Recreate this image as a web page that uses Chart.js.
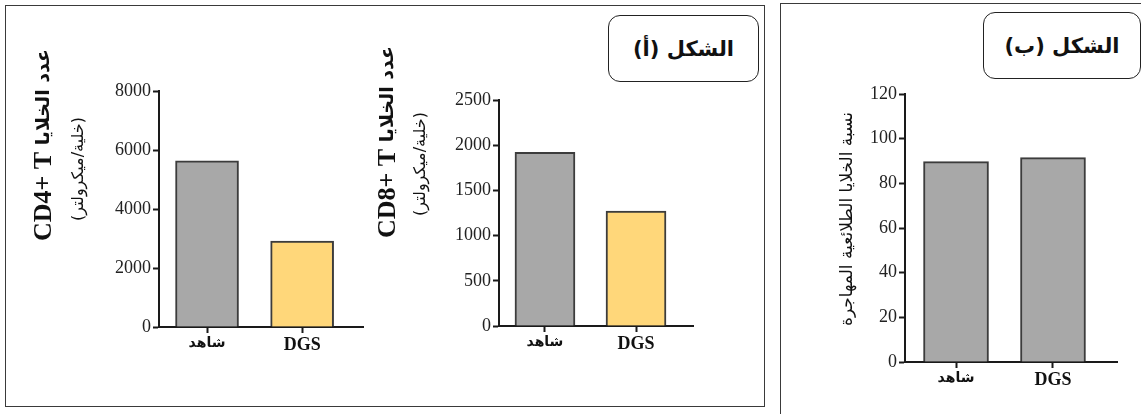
<!DOCTYPE html>
<html lang="ar">
<head>
<meta charset="utf-8">
<script src="https://cdn.jsdelivr.net/npm/chart.js@4.4.1/dist/chart.umd.min.js"></script>
<style>
  body { margin: 0; width: 1141px; height: 414px; background: #fff; position: relative; overflow: hidden; }
  .panel { position: absolute; box-sizing: border-box; }
  #panelA { left: 5px; top: 5px; width: 760px; height: 402px; border: 1.5px solid #3a3a3a; }
  #panelB { left: 780px; top: 3px; width: 380px; height: 430px; border-left: 1.5px solid #3a3a3a; border-top: 1.5px solid #3a3a3a; }
  .tag { position: absolute; box-sizing: border-box; border: 1.5px solid #222; border-radius: 12px; background: #fff;
         display: flex; align-items: center; justify-content: center; font: bold 21px 'DejaVu Sans', sans-serif; color: #111; direction: rtl; }
  #tagA { left: 608px; top: 15px; width: 151px; height: 67px; }
  #tagB { left: 983px; top: 12px; width: 158px; height: 67px; }
  canvas { position: absolute; }
  #cd4 { left: 12px; top: 30px; }
  #cd8 { left: 370px; top: 30px; }
  #mig { left: 785px; top: 30px; }
</style>
</head>
<body>
<div class="panel" id="panelA"></div>
<div class="panel" id="panelB"></div>
<canvas id="cd4" width="360" height="360"></canvas>
<canvas id="cd8" width="330" height="360"></canvas>
<canvas id="mig" width="356" height="380"></canvas>
<div class="tag" id="tagA">الشكل (أ)</div>
<div class="tag" id="tagB">الشكل (ب)</div>
<script>
// data
const categories = ['شاهد', 'DGS'];
const cd4Values = [5630, 2915];
const cd8Values = [1920, 1270];
const migrationValues = [89.7, 91.5];
const cd4Ticks = [0, 2000, 4000, 6000, 8000];
const cd8Ticks = [0, 500, 1000, 1500, 2000, 2500];
const migrationTicks = [0, 20, 40, 60, 80, 100, 120];

const GRAY = '#a8a8a8';
const YELLOW = '#ffd77a';
const AXIS = '#1a1a1a';

// rotated y titles, each line may mix fonts (latin serif + arabic)
const sideTitles = {
    id: 'sideTitles',
    afterDraw(chart, args, opts) {
        const { ctx, chartArea } = chart;
        (opts.lines || []).forEach(line => {
            ctx.save();
            ctx.translate(chartArea.left + line.dx, chartArea.top + line.dy);
            ctx.rotate(-Math.PI / 2);
            ctx.fillStyle = '#111';
            ctx.textBaseline = 'middle';
            ctx.textAlign = 'left';
            let total = 0;
            line.runs.forEach(r => { ctx.font = r.font; r.w = ctx.measureText(r.text).width; total += r.w; });
            let x = -total / 2;
            line.runs.forEach(r => { ctx.font = r.font; ctx.fillText(r.text, x, 0); x += r.w; });
            ctx.restore();
        });
    }
};

function makeBarChart(id, values, colors, yTicks, xRange, barWidth, pad, lines) {
    const ctx = document.getElementById(id).getContext('2d');
    return new Chart(ctx, {
        type: 'bar',
        data: {
            datasets: [{
                data: values.map((v, i) => ({ x: i, y: v })),
                backgroundColor: colors,
                borderColor: '#3c3c3c',
                borderWidth: 2,
                barThickness: barWidth
            }]
        },
        options: {
            responsive: false,
            animation: false,
            devicePixelRatio: 1,
            layout: { padding: pad },
            scales: {
                x: {
                    type: 'linear',
                    min: xRange[0],
                    max: xRange[1],
                    offset: false,
                    afterBuildTicks: s => { s.ticks = categories.map((c, i) => ({ value: i })); },
                    afterFit: s => { s.height = 30; },
                    border: { color: AXIS, width: 2 },
                    grid: { drawOnChartArea: false, offset: false, tickLength: 6, tickWidth: 2, color: AXIS },
                    ticks: {
                        padding: 2,
                        color: '#111',
                        maxRotation: 0,
                        callback: v => categories[v],
                        font: c => c.index === 0
                            ? { family: 'DejaVu Sans', size: 14, weight: 'bold' }
                            : { family: 'Liberation Serif', size: 18, weight: 'bold' }
                    }
                },
                y: {
                    min: yTicks[0],
                    max: yTicks[yTicks.length - 1],
                    afterBuildTicks: s => { s.ticks = yTicks.map(v => ({ value: v })); },
                    afterFit: s => { s.width = 60; },
                    border: { color: AXIS, width: 2 },
                    grid: { drawOnChartArea: false, tickLength: 6, tickWidth: 2, color: AXIS },
                    ticks: {
                        padding: 2,
                        color: '#222',
                        callback: v => String(v),
                        font: { family: 'Liberation Serif', size: 18 }
                    }
                }
            },
            plugins: {
                legend: { display: false },
                tooltip: { enabled: false },
                sideTitles: { lines: lines }
            }
        },
        plugins: [sideTitles]
    });
}

makeBarChart('cd4', cd4Values, [GRAY, YELLOW], cd4Ticks, [-0.505, 1.64], 63,
    { left: 87, right: 9, top: 61, bottom: 33 },
    [
        { dx: -115, dy: 54, runs: [
            { text: 'CD4+ T ', font: 'bold 26px "Liberation Serif"' },
            { text: 'عدد الخلايا', font: 'bold 19px "DejaVu Sans"' }
        ] },
        { dx: -80, dy: 78, runs: [ { text: '(خلية/ميكرولتر)', font: '16px "DejaVu Sans"' } ] }
    ]);

makeBarChart('cd8', cd8Values, [GRAY, YELLOW], cd8Ticks, [-0.505, 1.626], 60,
    { left: 69, right: 7, top: 70, bottom: 34 },
    [
        { dx: -111, dy: 42, runs: [
            { text: 'CD8+ T ', font: 'bold 26px "Liberation Serif"' },
            { text: 'عدد الخلايا', font: 'bold 19px "DejaVu Sans"' }
        ] },
        { dx: -78, dy: 64, runs: [ { text: '(خلية/ميكرولتر)', font: '16px "DejaVu Sans"' } ] }
    ]);

makeBarChart('mig', migrationValues, [GRAY, GRAY], migrationTicks, [-0.526, 1.66], 65,
    { left: 60, right: 24, top: 64, bottom: 18 },
    [
        { dx: -57, dy: 125, runs: [ { text: 'نسبة الخلايا الطلائعية المهاجرة', font: '17px "DejaVu Sans"' } ] }
    ]);
</script>
</body>
</html>
